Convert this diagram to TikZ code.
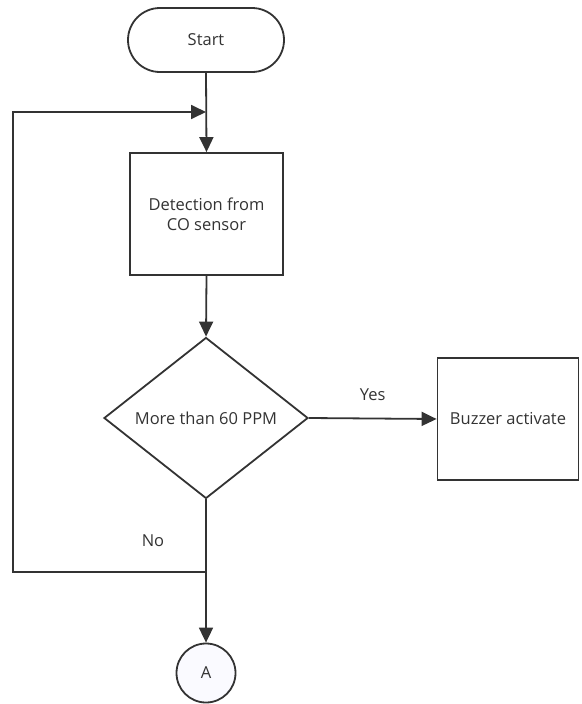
\documentclass[tikz,border=0pt]{standalone}
\usepackage{fontspec}
\setmainfont{Open Sans}
\usetikzlibrary{shapes.geometric,arrows.meta}
\definecolor{ln}{HTML}{333333}
\definecolor{tx}{HTML}{333333}
\begin{document}
\begin{tikzpicture}[x=1pt,y=-1pt,
  every node/.style={font=\fontsize{16.5}{20}\selectfont, text=tx},
  box/.style={draw=ln, line width=1.8pt, align=center, inner sep=0pt},
  conn/.style={draw=ln, line width=1.8pt},
  arr/.style={conn, -{Triangle[length=15pt,width=14pt]}}]
\useasboundingbox (0,0) rectangle (581,704);
\node[box, rounded corners=32pt, minimum width=156pt, minimum height=64pt] (start) at (206,40) {Start};
\node[box, minimum width=153pt, minimum height=122pt] (det) at (206.5,214) {Detection from\\CO sensor};
\node[box, shape=diamond, minimum width=204pt, minimum height=161pt] (dec) at (206,418) {More than 60 PPM};
\node[box, minimum width=141pt, minimum height=122pt] (buz) at (508,419) {Buzzer activate};
\node[box, shape=circle, minimum size=59pt, fill=blue!2] (A) at (206,673) {A};
\coordinate (j1) at (206,112);
\coordinate (j2) at (206,572);
\coordinate (c1) at (13,572);
\coordinate (c2) at (13,112);
\draw[arr] (start.south) -- (det.north);
\draw[arr] (det.south) -- (dec.north);
\draw[arr] (dec.east) -- node[above=14pt, pos=0.5] (yes) {Yes} (buz.west);
\draw[arr] (dec.south) -- (A.north);
\draw[arr] (j2) -- (c1) -- (c2) -- (j1);
\node (no) at (153,541) {No};
\end{tikzpicture}
\end{document}
